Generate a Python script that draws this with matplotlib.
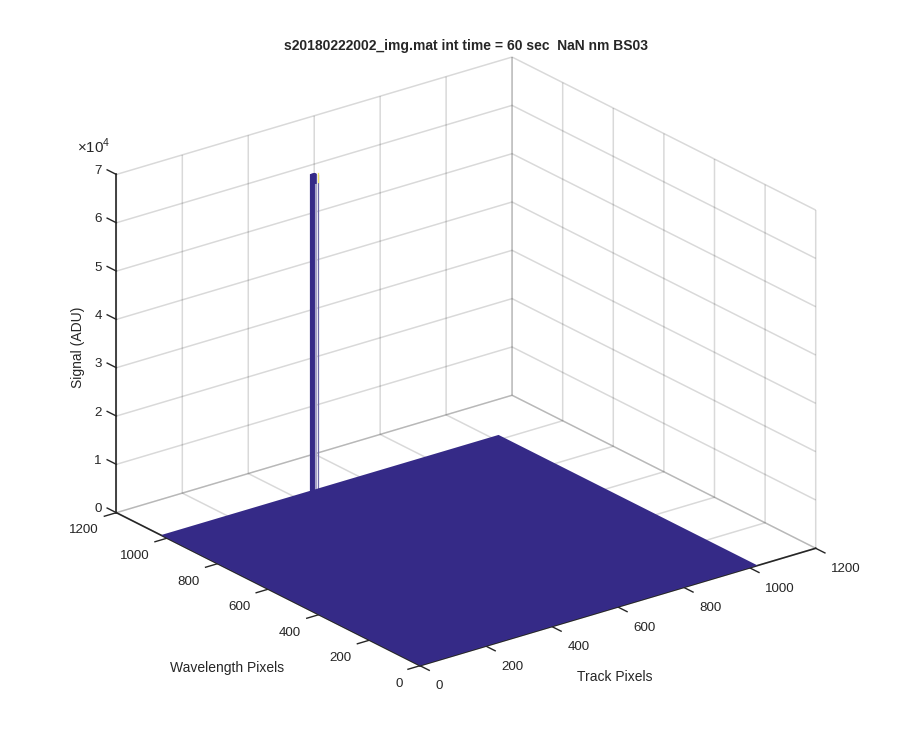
import matplotlib
matplotlib.use("Agg")
import numpy as np
import matplotlib.pyplot as plt
from matplotlib.transforms import Affine2D
from mpl_toolkits.mplot3d import proj3d

# ---- data ----
floor_x = [1, 1024]
floor_y = [1, 1024]
floor_z = [[0, 0], [0, 0]]
spike_x = [452, 452, 466, 466]
spike_y = [1016, 1016, 1024, 1024]
spike_z = [[0, 0, 0, 0],
           [0, 65535, 65535, 0],
           [0, 65535, 65535, 0],
           [0, 0, 0, 0]]
band_x = [468.5, 468.5]
band_y = [1020, 1020]
band_z = [0, 63000]
side_x = [474, 474]
side_y = [1020, 1020]
side_z = [0, 65000]
tip_z = [63500, 65535]
xy_ticks = [0, 200, 400, 600, 800, 1000, 1200]
xy_labels = ["0", "200", "400", "600", "800", "1000", "1200"]
z_ticks = [0, 10000, 20000, 30000, 40000, 50000, 60000, 70000]
z_labels = ["0", "1", "2", "3", "4", "5", "6", "7"]
title = "s20180222002_img.mat int time = 60 sec  NaN nm BS03"
xlabel = "Track Pixels"
ylabel = "Wavelength Pixels"
zlabel = "Signal (ADU)"

# ---- style ----
INK = "#262626"
plt.rcParams.update({
    "font.family": ["Liberation Sans", "DejaVu Sans"],
    "mathtext.fontset": "custom",
    "mathtext.rm": "Liberation Sans",
    "text.color": INK,
    "axes.labelcolor": INK,
    "axes.edgecolor": INK,
    "axes.linewidth": 1.0,
    "grid.color": (0, 0, 0, 0.15),
    "grid.linewidth": 1.1,
    "xtick.major.width": 1.0,
    "ytick.major.width": 1.0,
    "xtick.color": INK,
    "ytick.color": INK,
})
FW, FH = 900, 750
fig = plt.figure(figsize=(FW / 100, FH / 100), dpi=100)
ax = fig.add_axes([0.1, 0.1, 0.8, 0.8], projection="3d", proj_type="ortho",
                  computed_zorder=False)
ax.view_init(elev=22.75, azim=-127.5)
ax.set_box_aspect((1, 1, 0.7353))
ax.set_xlim(0, 1200, view_margin=0)
ax.set_ylim(0, 1200, view_margin=0)
ax.set_zlim(0, 70000, view_margin=0)


def to_px(x, y, z):
    ax.apply_aspect()
    sx, sy, _ = proj3d.proj_transform(x, y, z, ax.get_proj())
    px, py = ax.transData.transform((sx, sy))
    return px, FH - py


def place(w):
    ax.set_position([0.1, 0.1, w / FW, w / FH])


# Fit the axes box to the frame measured in the picture
place(600)
p0 = to_px(0, 0, 0)
p1 = to_px(1200, 0, 0)
W = 600 * 395.7 / (p1[0] - p0[0])
place(W)
p0 = to_px(0, 0, 0)
ax.set_position([0.1 + (420.0 - p0[0]) / FW, 0.1 - (665.7 - p0[1]) / FH, W / FW, W / FH])

ax.xaxis.set_pane_color((1, 1, 1, 0))
ax.yaxis.set_pane_color((1, 1, 1, 0))
ax.zaxis.set_pane_color((1, 1, 1, 0))
for a in (ax.xaxis, ax.yaxis, ax.zaxis):
    a.pane.set_edgecolor((1, 1, 1, 0))
    a.line.set_color(INK)
    a.line.set_linewidth(1.2)
    a._axinfo["tick"]["inward_factor"] = 0.38
    a._axinfo["tick"]["outward_factor"] = 0.0
# The vertical axis carries its ticks along the wavelength direction, pointing outward
ax.zaxis._axinfo["tick"]["inward_factor"] = 0.0
ax.zaxis._axinfo["tick"]["outward_factor"] = 0.38

ax.set_xticks(xy_ticks, xy_labels, fontsize=9.6)
ax.set_yticks(xy_ticks, xy_labels, fontsize=9.6)
ax.set_zticks(z_ticks, z_labels, fontsize=9.6)
ax.zaxis.set_ticks_position("upper")
ax.zaxis._get_tickdir = lambda position: 1
ax.tick_params(axis="both", pad=3)
ax.tick_params(axis="z", pad=3)


def shift_labels(axis_obj, ha, dx, dy):
    """Nudge the tick labels; Axis3D resets label transforms whenever it fetches ticks."""
    original = axis_obj.get_major_ticks
    shifted = ax.transData + Affine2D().translate(dx, dy)

    def get_major_ticks(numticks=None):
        ticks = original(numticks)
        for t in ticks:
            t.label1.set_ha(ha)
            t.label1.set_transform(shifted)
        return ticks

    axis_obj.get_major_ticks = get_major_ticks


shift_labels(ax.xaxis, "left", 4, 4)
shift_labels(ax.yaxis, "right", -2.5, 5.5)
shift_labels(ax.zaxis, "right", 12, 8)

DARK = "#352A87"
ax.plot(side_x, side_y, side_z, color="#6F6AA8", lw=0.9, zorder=1)
ax.plot(side_x, side_y, tip_z, color="#F0E36A", lw=0.9, zorder=1.5)
sx, sy = np.meshgrid(spike_x, spike_y)
ax.plot_surface(sx, sy, np.array(spike_z), color=DARK, shade=False, linewidth=0,
                antialiased=True, rstride=1, cstride=1, zorder=2)
ax.plot(band_x, band_y, band_z, color="#A9A6C8", lw=1.5, zorder=2.5)
fx, fy = np.meshgrid(floor_x, floor_y)
ax.plot_surface(fx, fy, np.array(floor_z), color=DARK, shade=False, linewidth=0,
                antialiased=True, rstride=1, cstride=1, zorder=3)

fig.text(466 / FW, 1 - 46 / FH, title, ha="center", va="center", fontsize=10, fontweight="bold")
fig.text(615 / FW, 1 - 677 / FH, xlabel, ha="center", va="center", fontsize=10)
fig.text(227 / FW, 1 - 668 / FH, ylabel, ha="center", va="center", fontsize=10)
fig.text(78 / FW, 1 - 347 / FH, zlabel, ha="center", va="center", fontsize=10, rotation=90)
fig.text(77 / FW, 1 - 146 / FH, r"$\times\mathrm{10}^{\mathrm{4}}$", ha="left", va="center", fontsize=10.8)

fig.savefig("out.png", dpi=100, facecolor="white")
